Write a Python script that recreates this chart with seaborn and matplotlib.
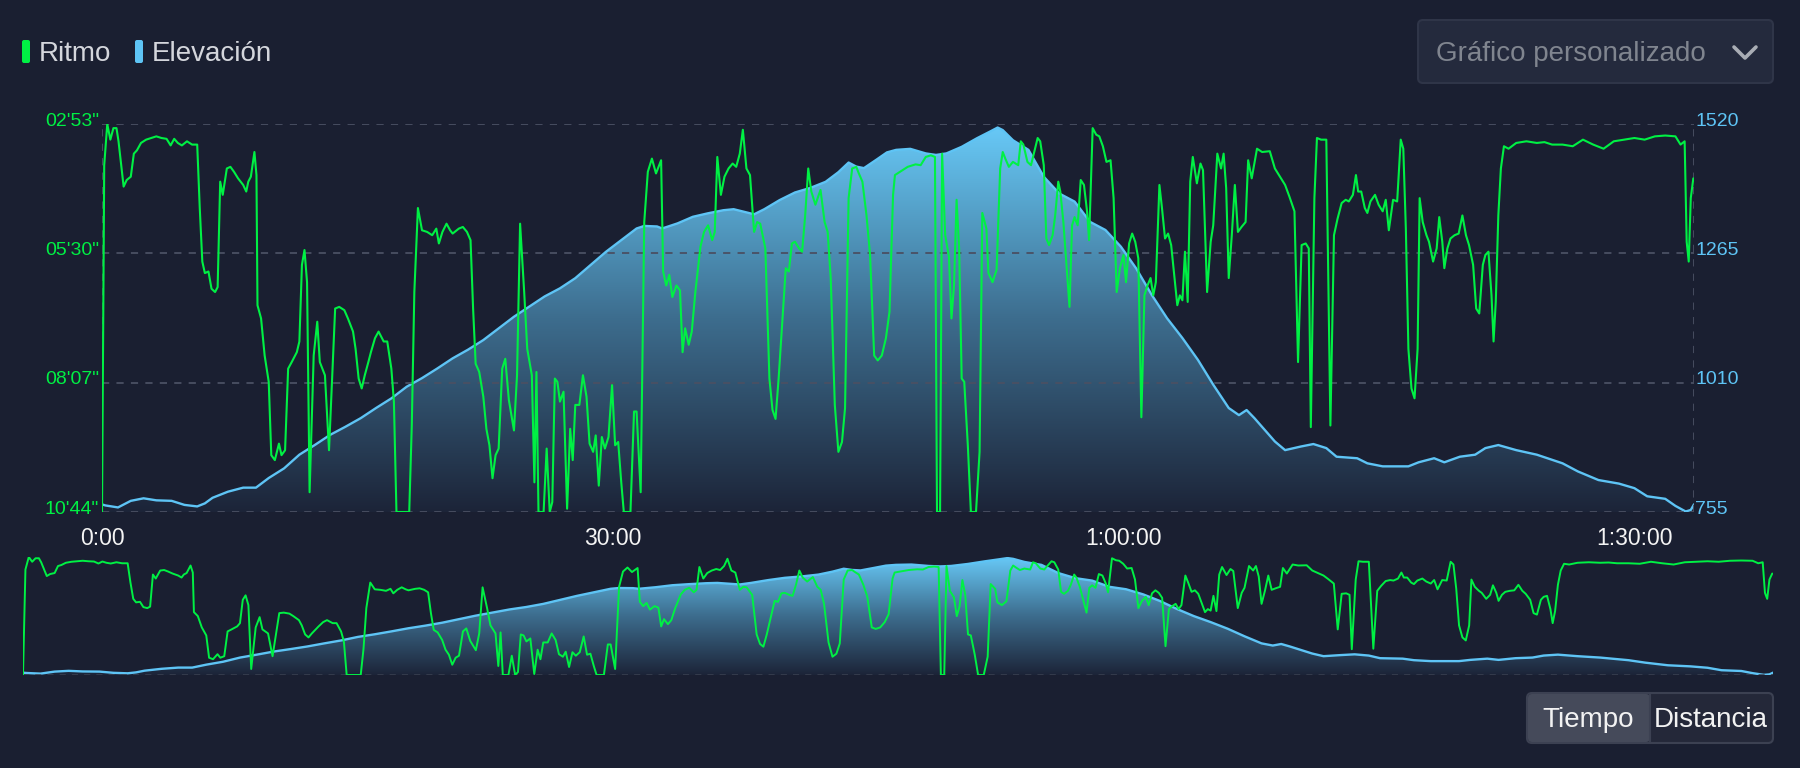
import numpy as np
import pandas as pd
import matplotlib
matplotlib.use("Agg")
import matplotlib.pyplot as plt
import seaborn as sns
from matplotlib.colors import LinearSegmentedColormap
from matplotlib.patches import FancyBboxPatch
from matplotlib.lines import Line2D
from matplotlib.transforms import IdentityTransform, ScaledTranslation

# ---- data (time in minutes) ----
elev_min = [0.0, 0.19, 0.94, 1.69, 2.44, 3.19, 4.09, 4.84, 5.59, 6.04,
            6.49, 7.39, 8.29, 9.04, 9.79, 10.69, 11.59, 12.49, 13.39, 14.29,
            15.19, 16.09, 16.99, 17.89, 18.79, 19.69, 20.59, 21.49, 22.39, 23.29,
            24.19, 25.09, 25.99, 26.89, 27.79, 28.69, 29.59, 30.49, 31.39, 31.84,
            32.59, 32.89, 33.79, 34.69, 35.59, 36.49, 37.09, 37.69, 38.29, 38.89,
            39.79, 40.69, 41.59, 42.49, 43.24, 43.84, 44.29, 44.74, 45.49, 46.09,
            46.63, 47.46, 48.37, 48.97, 49.58, 50.48, 51.38, 52.14, 52.59, 52.89,
            53.49, 54.40, 55.30, 56.21, 57.11, 58.02, 58.92, 59.83, 60.73, 61.64,
            62.54, 63.44, 64.35, 65.25, 66.16, 66.76, 67.21, 67.67, 68.87, 69.47,
            70.38, 71.13, 71.89, 72.49, 73.70, 74.30, 75.20, 76.71, 77.31, 78.22,
            78.82, 79.73, 80.63, 81.23, 81.99, 83.04, 84.25, 85.76, 86.66, 87.87,
            89.07, 89.98, 90.73, 91.79, 92.39, 92.99, 93.29, 93.48]
elev_m = [770, 768, 764, 777, 782, 778, 777, 769, 766, 772,
          783, 795, 803, 803, 822, 841, 868, 887, 907, 923,
          940, 960, 979, 1002, 1019, 1038, 1058, 1075, 1094, 1117,
          1140, 1160, 1180, 1196, 1216, 1242, 1268, 1291, 1314, 1319,
          1318, 1314, 1324, 1337, 1344, 1350, 1352, 1347, 1342, 1352,
          1370, 1385, 1394, 1406, 1425, 1444, 1436, 1433, 1450, 1464,
          1469, 1471, 1462, 1459, 1462, 1475, 1492, 1505, 1513, 1508,
          1488, 1469, 1416, 1383, 1367, 1327, 1311, 1278, 1235, 1183,
          1137, 1098, 1055, 1006, 960, 946, 956, 940, 894, 877,
          884, 889, 881, 864, 861, 851, 845, 845, 853, 861,
          853, 864, 868, 881, 887, 877, 868, 851, 835, 818,
          811, 802, 786, 781, 767, 756, 759, 770]

# pace in seconds per km, first half of the activity
pace_min_a = [0.0, 0.13, 0.31, 0.49, 0.67, 0.85, 0.97, 1.15, 1.27, 1.45,
              1.69, 1.87, 2.05, 2.29, 2.59, 2.89, 3.19, 3.49, 3.79, 4.03,
              4.24, 4.45, 4.69, 4.99, 5.29, 5.59, 5.74, 5.89, 6.04, 6.25,
              6.43, 6.64, 6.79, 6.94, 7.09, 7.33, 7.54, 7.75, 7.99, 8.29,
              8.47, 8.59, 8.74, 8.95, 9.07, 9.13, 9.34, 9.55, 9.79, 9.94,
              10.15, 10.39, 10.54, 10.75, 10.93, 11.14, 11.44, 11.59, 11.74, 11.89,
              12.04, 12.19, 12.43, 12.64, 12.79, 13.09, 13.33, 13.54, 13.69, 13.93,
              14.23, 14.44, 14.74, 14.89, 15.07, 15.25, 15.43, 15.64, 15.79, 16.03,
              16.24, 16.54, 16.75, 16.99, 17.14, 17.29, 18.04, 18.19, 18.34, 18.55,
              18.79, 19.09, 19.39, 19.63, 19.78, 19.99, 20.23, 20.44, 20.59, 20.83,
              20.95, 21.19, 21.43, 21.64, 21.79, 21.94, 22.15, 22.39, 22.57, 22.75,
              22.93, 23.11, 23.29, 23.50, 23.68, 23.89, 24.19, 24.37, 24.55, 24.79,
              24.97, 25.24, 25.39, 25.51, 25.63, 25.93, 26.11, 26.29, 26.44, 26.59,
              26.74, 26.89, 27.10, 27.31, 27.49, 27.64, 27.79, 28.03, 28.24, 28.45,
              28.63, 28.84, 28.99, 29.17, 29.35, 29.53, 29.74, 29.95, 30.13, 30.31,
              30.49, 30.64, 31.03, 31.24, 31.39, 31.63, 31.84, 32.05, 32.29, 32.53,
              32.83, 32.95, 33.13, 33.31, 33.49, 33.73, 33.94, 34.09, 34.24, 34.45,
              34.63, 34.84, 35.14, 35.35, 35.59, 35.83, 35.98, 36.13, 36.34, 36.55,
              36.79, 37.03, 37.24, 37.45, 37.63, 37.84, 38.05, 38.29, 38.47, 38.65,
              38.95, 39.19, 39.37, 39.55, 39.73, 39.97, 40.15, 40.33, 40.51, 40.69,
              40.93, 41.11, 41.29, 41.47, 41.65, 41.89, 42.19, 42.43, 42.61, 42.79,
              43.03, 43.24, 43.45, 43.63, 43.84, 44.05, 44.29, 44.44, 44.65, 44.89,
              45.10, 45.34, 45.55, 45.79, 46.03, 46.24, 46.45]
pace_s_a = [644, 223, 173, 192, 178, 178, 194, 227, 249, 241,
            237, 209, 205, 196, 192, 190, 188, 190, 191, 199,
            191, 196, 199, 194, 198, 198, 275, 340, 354, 352,
            373, 377, 371, 243, 259, 227, 225, 231, 239, 247,
            255, 243, 237, 207, 235, 393, 409, 454, 486, 575,
            581, 561, 575, 569, 470, 462, 450, 437, 344, 326,
            365, 620, 454, 413, 462, 478, 569, 470, 397, 395,
            399, 409, 425, 446, 482, 494, 478, 462, 450, 433,
            425, 437, 437, 470, 510, 644, 644, 539, 377, 275,
            302, 304, 308, 300, 318, 304, 294, 302, 306, 302,
            300, 298, 304, 314, 397, 464, 474, 504, 543, 563,
            603, 575, 567, 470, 458, 508, 545, 478, 294, 377,
            446, 478, 608, 474, 644, 644, 567, 644, 632, 482,
            486, 510, 498, 640, 543, 581, 514, 514, 478, 504,
            561, 571, 551, 612, 553, 567, 553, 490, 563, 559,
            608, 644, 644, 522, 522, 620, 292, 231, 215, 233,
            217, 352, 369, 356, 383, 369, 375, 450, 421, 441,
            425, 377, 322, 304, 296, 314, 304, 213, 259, 237,
            227, 221, 225, 209, 180, 227, 235, 304, 292, 294,
            324, 482, 520, 531, 482, 405, 348, 352, 318, 316,
            324, 328, 284, 227, 255, 271, 253, 292, 304, 360,
            514, 571, 559, 518, 263, 227, 225, 233, 243, 284,
            332, 454, 460, 454, 433, 401, 259]

# second half
pace_min_b = [46.56, 46.86, 47.31, 47.77, 48.07, 48.37, 48.67, 48.91, 49.03, 49.21,
              49.33, 49.51, 49.73, 49.88, 50.03, 50.18, 50.33, 50.48, 50.63, 50.84,
              51.02, 51.32, 51.53, 51.69, 51.93, 52.05, 52.29, 52.53, 52.74, 52.89,
              53.04, 53.25, 53.49, 53.80, 53.95, 54.10, 54.34, 54.55, 54.79, 54.94,
              55.09, 55.30, 55.45, 55.61, 55.82, 55.97, 56.15, 56.27, 56.45, 56.63,
              56.81, 56.96, 57.11, 57.29, 57.47, 57.66, 57.84, 57.96, 58.17, 58.38,
              58.56, 58.77, 58.98, 59.22, 59.40, 59.58, 59.77, 59.98, 60.13, 60.31,
              60.49, 60.67, 60.85, 61.03, 61.21, 61.39, 61.57, 61.73, 61.88, 62.09,
              62.24, 62.42, 62.60, 62.78, 62.96, 63.14, 63.29, 63.44, 63.59, 63.75,
              63.90, 64.05, 64.29, 64.50, 64.65, 64.89, 65.10, 65.25, 65.49, 65.71,
              65.86, 66.01, 66.16, 66.34, 66.52, 66.70, 66.91, 67.15, 67.30, 67.51,
              67.82, 68.12, 68.57, 68.87, 69.17, 69.47, 69.72, 70.02, 70.23, 70.44,
              70.68, 70.86, 70.98, 71.19, 71.34, 71.58, 71.89, 72.13, 72.34, 72.55,
              72.79, 73.03, 73.21, 73.45, 73.63, 73.76, 73.94, 74.15, 74.30, 74.48,
              74.75, 74.96, 75.20, 75.38, 75.56, 75.81, 76.05, 76.26, 76.41, 76.56,
              76.71, 76.89, 77.07, 77.25, 77.37, 77.55, 77.77, 77.92, 78.16, 78.37,
              78.52, 78.70, 78.82, 79.00, 79.18, 79.42, 79.66, 79.88, 80.09, 80.27,
              80.51, 80.69, 80.87, 81.08, 81.23, 81.41, 81.59, 81.71, 81.84, 81.99,
              82.14, 82.32, 82.59, 83.04, 83.64, 84.25, 84.70, 85.15, 85.76, 86.36,
              86.96, 87.56, 88.17, 88.77, 89.37, 89.98, 90.58, 91.18, 91.79, 92.39,
              92.69, 92.93, 93.05, 93.17, 93.29, 93.44]
pace_s_b = [235, 231, 225, 222, 223, 213, 211, 213, 644, 644,
            209, 308, 334, 409, 369, 265, 324, 482, 486, 563,
            644, 644, 571, 281, 300, 354, 365, 350, 227, 207,
            215, 225, 219, 223, 194, 198, 219, 223, 203, 190,
            194, 223, 312, 320, 308, 284, 243, 255, 292, 344,
            395, 296, 286, 296, 241, 247, 279, 314, 178, 186,
            188, 200, 219, 217, 263, 377, 348, 332, 365, 318,
            306, 316, 336, 529, 381, 369, 360, 381, 365, 247,
            275, 312, 306, 320, 356, 393, 381, 387, 328, 389,
            243, 213, 245, 221, 229, 377, 316, 296, 209, 227,
            209, 251, 360, 308, 247, 304, 298, 292, 217, 239,
            203, 207, 206, 227, 237, 247, 261, 279, 462, 320,
            318, 324, 541, 263, 190, 192, 192, 539, 308, 288,
            269, 265, 267, 259, 235, 255, 255, 275, 281, 267,
            259, 271, 279, 265, 302, 265, 267, 192, 203, 300,
            446, 494, 506, 446, 263, 292, 308, 316, 340, 324,
            286, 316, 348, 324, 312, 308, 306, 284, 308, 320,
            344, 397, 403, 344, 332, 328, 381, 437, 389, 284,
            227, 200, 203, 196, 194, 196, 195, 198, 198, 200,
            192, 198, 203, 194, 192, 190, 192, 188, 187, 188,
            198, 194, 316, 340, 263, 239]

pace_ticks = [173, 330, 487, 644]
pace_labels = ["02'53\"", "05'30\"", "08'07\"", "10'44\""]
elev_ticks = [755, 1010, 1265, 1520]
time_ticks = [0, 30, 60, 90]
time_labels = ["0:00", "30:00", "1:00:00", "1:30:00"]
t_end = 93.48

pace_df = pd.DataFrame({"min": pace_min_a + pace_min_b, "ritmo": pace_s_a + pace_s_b})
elev_df = pd.DataFrame({"min": elev_min, "elev": elev_m})

# ---- style ----
W, H = 1800, 768
BG = "#1a1f31"
GREEN = "#00f044"
BLUE = "#5ec4f5"
GRID = "#4a5063"

sns.set_theme(style="dark", rc={"axes.facecolor": BG, "figure.facecolor": BG})
plt.rcParams["font.family"] = ["Liberation Sans", "DejaVu Sans"]

elev_cmap = LinearSegmentedColormap.from_list("elev", ["#1c2438", "#3d6d8e", "#68caf8"])

fig = plt.figure(figsize=(18, 7.68), dpi=100, facecolor=BG)


def gradient_area(a, lo, hi):
    poly = a.fill_between(elev_df["min"], elev_df["elev"], lo, facecolor="none", edgecolor="none")
    grad = np.linspace(0, 1, 256).reshape(-1, 1)
    im = a.imshow(grad, extent=[0, t_end, lo, hi], origin="lower", aspect="auto",
                  cmap=elev_cmap, zorder=1, interpolation="bilinear")
    im.set_clip_path(poly.get_paths()[0], a.transData)


def make_panel(rect, main):
    ax = fig.add_axes(rect)
    ax2 = ax.twinx()
    ax2.set_zorder(1)
    ax.set_zorder(2)
    ax.patch.set_visible(False)

    gradient_area(ax2, 755, 1520)
    sns.lineplot(data=elev_df, x="min", y="elev", ax=ax2, color=BLUE, linewidth=1.7,
                 estimator=None, sort=False, zorder=3)
    sns.lineplot(data=pace_df, x="min", y="ritmo", ax=ax, color=GREEN,
                 linewidth=1.5 if main else 1.4, estimator=None, sort=False, zorder=4)

    ax.set_xlim(0, t_end)
    ax.set_ylim(644, 173)
    ax2.set_ylim(755, 1520)
    for a in (ax, ax2):
        for s in a.spines.values():
            s.set_visible(False)
        a.set_xlabel("")
        a.set_ylabel("")
        a.grid(False)

    if main:
        for v in pace_ticks:
            ax.axhline(v, color=GRID, lw=1.3, ls=(0, (4, 4)), zorder=1)
        ax.axvline(0, color=GRID, lw=1.3, ls=(0, (4, 4)), zorder=1)
        ax.axvline(t_end, color=GRID, lw=1.3, ls=(0, (4, 4)), zorder=1)
        ax.set_xticks(time_ticks)
        ax.set_xticklabels(time_labels, color="#f4f4f4", fontsize=16.5)
        ax.tick_params(axis="x", length=0, pad=11)
        ax.set_yticks(pace_ticks)
        ax.set_yticklabels(pace_labels, color=GREEN, fontsize=14)
        ax.tick_params(axis="y", length=0, pad=2)
        ax2.set_yticks(elev_ticks)
        ax2.set_yticklabels([str(v) for v in elev_ticks], color=BLUE, fontsize=14)
        ax2.tick_params(axis="y", length=0, pad=1)
        up = ScaledTranslation(0, 5 / 100, fig.dpi_scale_trans)
        for lbl in ax.get_yticklabels() + ax2.get_yticklabels():
            lbl.set_transform(lbl.get_transform() + up)
    else:
        ax.axhline(644, color="#3b4152", lw=1.1, ls=(0, (4, 4)), zorder=1)
        ax.set_xticks([])
        ax.set_yticks([])
        ax2.set_yticks([])
    return ax, ax2


make_panel([102 / W, 1 - 512 / H, 1592 / W, 388 / H], True)
make_panel([23 / W, 1 - 675 / H, 1750 / W, 118 / H], False)

# ---- legend, selector and buttons (pixel coordinates, top-left origin) ----
px = IdentityTransform()


def box(x, y, w, h, fc, ec, r=4, lw=1.5):
    fig.add_artist(FancyBboxPatch((x, H - y - h), w, h, boxstyle=f"round,pad=0,rounding_size={r}",
                                  transform=px, facecolor=fc, edgecolor=ec, linewidth=lw))


box(22, 40, 8, 23, GREEN, "none", r=2, lw=0)
fig.text(39 / W, 1 - 61 / H, "Ritmo", color="#d4d6dc", fontsize=20, va="baseline", ha="left")
box(135, 40, 8, 23, BLUE, "none", r=2, lw=0)
fig.text(152 / W, 1 - 61 / H, "Elevación", color="#d4d6dc", fontsize=20, va="baseline", ha="left")

box(1418, 20, 355, 63, "#242a3d", "#2f3548", r=5)
fig.text(1436 / W, 1 - 61 / H, "Gráfico personalizado", color="#80858f", fontsize=20,
         va="baseline", ha="left")
fig.add_artist(Line2D([1734, 1745, 1756], [H - 47, H - 58, H - 47], transform=px,
                      color="#a9adb5", linewidth=2.6, solid_capstyle="round"))

box(1527, 693, 246, 50, "#242839", "#3c4152", r=5)
box(1528, 694, 122, 48, "#454a5a", "none", r=4, lw=0)
fig.add_artist(Line2D([1650, 1650], [H - 694, H - 742], transform=px, color="#3c4152", linewidth=1.5))
fig.text(1588 / W, 1 - 727 / H, "Tiempo", color="#f2f2f2", fontsize=20, va="baseline", ha="center")
fig.text(1711 / W, 1 - 727 / H, "Distancia", color="#f2f2f2", fontsize=20, va="baseline", ha="center")

fig.savefig("out.png", dpi=100, facecolor=BG)
